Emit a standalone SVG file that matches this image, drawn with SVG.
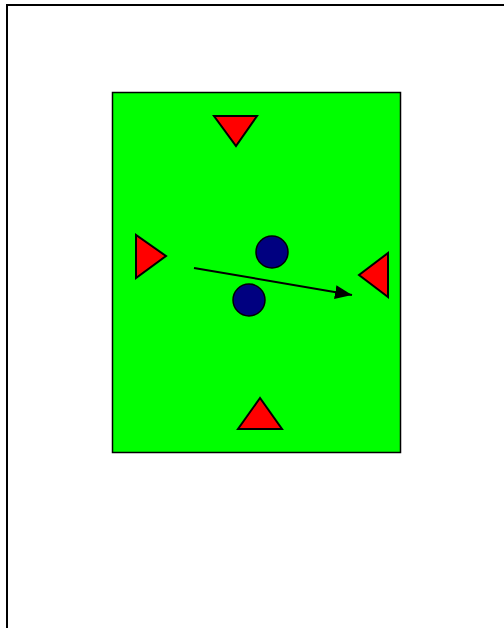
<svg xmlns="http://www.w3.org/2000/svg" width="504" height="628" viewBox="0 0 504 628">
<style>
.tri{fill:#ff0000;stroke:#000;stroke-width:2;stroke-linejoin:miter}
.ball{fill:#000080;stroke:#000;stroke-width:1.5}
</style>
<defs>
<marker id="ah" markerUnits="userSpaceOnUse" markerWidth="18" markerHeight="14" refX="17" refY="7" orient="auto">
<path d="M0,0 L17,7 L0,14 Z" fill="#000"/>
</marker>
</defs>
<rect width="504" height="628" fill="#fff"/>
<rect id="frame" x="7" y="5" width="520" height="640" fill="none" stroke="#000" stroke-width="2"/>
<g id="field"><rect x="112.5" y="92.5" width="288" height="360" fill="#00ff00" stroke="#000" stroke-width="1.5"/></g>
<g id="cone-top"><polygon class="tri" points="214,116 257,116 236,146"/></g>
<g id="cone-left"><polygon class="tri" points="136,235 136,278 166,256"/></g>
<g id="cone-right"><polygon class="tri" points="388,253 388,297 359,275"/></g>
<g id="cone-bottom"><polygon class="tri" points="260,398 238,429 282,429"/></g>
<g id="player-1"><circle class="ball" cx="272" cy="252" r="16"/></g>
<g id="player-2"><circle class="ball" cx="249" cy="300" r="16"/></g>
<g id="connectors"><line x1="194" y1="268" x2="352" y2="295" stroke="#000" stroke-width="2" marker-end="url(#ah)"/></g>
</svg>
